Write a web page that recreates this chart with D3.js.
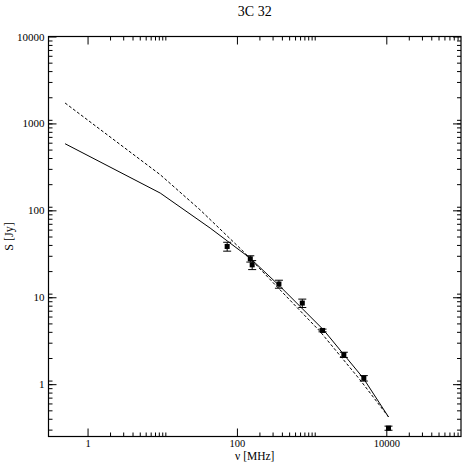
<!DOCTYPE html>
<html lang="en">
<head>
    <meta charset="utf-8">
    <title>3C 32</title>
    <script type="text/javascript" src="https://d3js.org/d3.v7.min.js"></script>
    <style>
        body { margin: 0; background: white; }
        svg text { font-family: "Liberation Serif", "DejaVu Serif", serif; fill: black; }
    </style>
</head>
<body>
    <div id="chart"></div>
    <script type="text/javascript">
        const width = 463;
        const height = 463;
        const margin = ({ left: 48.5, right: 2, top: 36.5, bottom: 26.5 });

        // measured points
        const freq = [74, 151, 160, 365, 750, 1400, 2700, 5000, 10700];
        const flux = [38.4, 27.7, 23.6, 14.2, 8.57, 4.15, 2.18, 1.17, 0.312];
        const fluxErr = [4.5, 2.3, 2.8, 1.5, 0.95, 0.15, 0.15, 0.085, 0.017];

        // model curves (solid and dashed)
        const solidFreq = [0.5, 9.4, 43.8, 150, 379, 1437, 4930, 10700];
        const solidFlux = [584, 158, 62.5, 28.2, 13.3, 4.23, 1.17, 0.42];
        const dashFreq = [0.5, 9.4, 32, 122, 342, 1298, 4455, 10700];
        const dashFlux = [1718, 257, 101.6, 33.6, 13.3, 4.04, 1.12, 0.42];

        // ticks
        const xMajor = [1, 100, 10000];
        const xTickLabels = ["1", "100", "10000"];
        const yMajor = [1, 10, 100, 1000, 10000];
        const yTickLabels = ["1", "10", "100", "1000", "10000"];

        const svg = d3.select("#chart")
            .append("svg")
            .attr("width", width)
            .attr("height", height);

        const x = d3.scaleLog()
            .domain([0.3, 100000])
            .range([margin.left, width - margin.right]);
        const y = d3.scaleLog()
            .domain([0.25, 10000])
            .range([height - margin.bottom, margin.top]);

        // minor ticks at 2..11 times each major
        function minors(bases, scale) {
            const [lo, hi] = scale.domain();
            const out = [];
            bases.forEach(b => {
                for (let i = 2; i <= 11; i++) {
                    const v = b * i;
                    if (v > lo && v < hi) out.push(v);
                }
            });
            return out;
        }
        const xMinor = minors([xMajor[0] / 100, ...xMajor], x);
        const yMinor = minors([yMajor[0] / 10, ...yMajor], y);

        const x0 = margin.left, x1 = width - margin.right;
        const y0 = height - margin.bottom, y1 = margin.top;

        function styleAxis(g) {
            g.select(".domain").remove();
            g.attr("font-family", null).attr("font-size", null);
            g.selectAll("line").attr("stroke", "black");
        }

        // bottom
        svg.append("g")
            .attr("transform", `translate(0,${y0})`)
            .call(d3.axisBottom(x).tickValues(xMajor).tickFormat((d, i) => xTickLabels[i])
                .tickSize(-8).tickSizeOuter(0).tickPadding(3))
            .call(styleAxis)
            .selectAll("text").style("font-size", "10.5px");
        svg.append("g")
            .attr("transform", `translate(0,${y0})`)
            .call(d3.axisBottom(x).tickValues(xMinor).tickFormat("").tickSize(-4).tickSizeOuter(0))
            .call(styleAxis);
        // top
        svg.append("g")
            .attr("transform", `translate(0,${y1})`)
            .call(d3.axisTop(x).tickValues(xMajor).tickFormat("").tickSize(-8).tickSizeOuter(0))
            .call(styleAxis);
        svg.append("g")
            .attr("transform", `translate(0,${y1})`)
            .call(d3.axisTop(x).tickValues(xMinor).tickFormat("").tickSize(-4).tickSizeOuter(0))
            .call(styleAxis);
        // left
        svg.append("g")
            .attr("transform", `translate(${x0},0)`)
            .call(d3.axisLeft(y).tickValues(yMajor).tickFormat((d, i) => yTickLabels[i])
                .tickSize(-8).tickSizeOuter(0).tickPadding(4))
            .call(styleAxis)
            .selectAll("text").style("font-size", "11px");
        svg.append("g")
            .attr("transform", `translate(${x0},0)`)
            .call(d3.axisLeft(y).tickValues(yMinor).tickFormat("").tickSize(-4).tickSizeOuter(0))
            .call(styleAxis);
        // right
        svg.append("g")
            .attr("transform", `translate(${x1},0)`)
            .call(d3.axisRight(y).tickValues(yMajor).tickFormat("").tickSize(-8).tickSizeOuter(0))
            .call(styleAxis);
        svg.append("g")
            .attr("transform", `translate(${x1},0)`)
            .call(d3.axisRight(y).tickValues(yMinor).tickFormat("").tickSize(-4).tickSizeOuter(0))
            .call(styleAxis);

        // frame
        svg.append("rect")
            .attr("x", x0).attr("y", y1)
            .attr("width", x1 - x0).attr("height", y0 - y1)
            .attr("fill", "none")
            .attr("stroke", "black")
            .attr("stroke-width", 1.2);

        // model lines
        const line = d3.line().x(d => x(d[0])).y(d => y(d[1]));
        svg.append("path")
            .datum(solidFreq.map((f, i) => [f, solidFlux[i]]))
            .attr("d", line)
            .attr("fill", "none")
            .attr("stroke", "black")
            .attr("stroke-width", 1);
        svg.append("path")
            .datum(dashFreq.map((f, i) => [f, dashFlux[i]]))
            .attr("d", line)
            .attr("fill", "none")
            .attr("stroke", "black")
            .attr("stroke-width", 1)
            .attr("stroke-dasharray", "3,2");

        // data points with error bars
        const pts = freq.map((f, i) => ({ f: f, s: flux[i], e: fluxErr[i] }));
        const capW = 4;
        const eb = svg.append("g").attr("class", "errorbars")
            .selectAll("g")
            .data(pts)
            .enter()
            .append("g");
        eb.append("line")
            .attr("x1", d => x(d.f)).attr("x2", d => x(d.f))
            .attr("y1", d => y(d.s - d.e)).attr("y2", d => y(d.s + d.e))
            .attr("stroke", "black");
        eb.append("line")
            .attr("x1", d => x(d.f) - capW).attr("x2", d => x(d.f) + capW)
            .attr("y1", d => y(d.s + d.e)).attr("y2", d => y(d.s + d.e))
            .attr("stroke", "black");
        eb.append("line")
            .attr("x1", d => x(d.f) - capW).attr("x2", d => x(d.f) + capW)
            .attr("y1", d => y(d.s - d.e)).attr("y2", d => y(d.s - d.e))
            .attr("stroke", "black");
        eb.append("rect")
            .attr("x", d => x(d.f) - 2.5)
            .attr("y", d => y(d.s) - 2.5)
            .attr("width", 5)
            .attr("height", 5)
            .attr("fill", "black");

        // title and axis labels
        svg.append("text")
            .attr("x", (x0 + x1) / 2)
            .attr("y", 16)
            .attr("text-anchor", "middle")
            .style("font-size", "14px")
            .text("3C 32");
        svg.append("text")
            .attr("x", (x0 + x1) / 2)
            .attr("y", 460)
            .attr("text-anchor", "middle")
            .style("font-size", "11.5px")
            .text("ν [MHz]");
        svg.append("text")
            .attr("transform", `translate(13,${(y0 + y1) / 2}) rotate(-90)`)
            .attr("text-anchor", "middle")
            .style("font-size", "12px")
            .text("S [Jy]");
    </script>
</body>
</html>
